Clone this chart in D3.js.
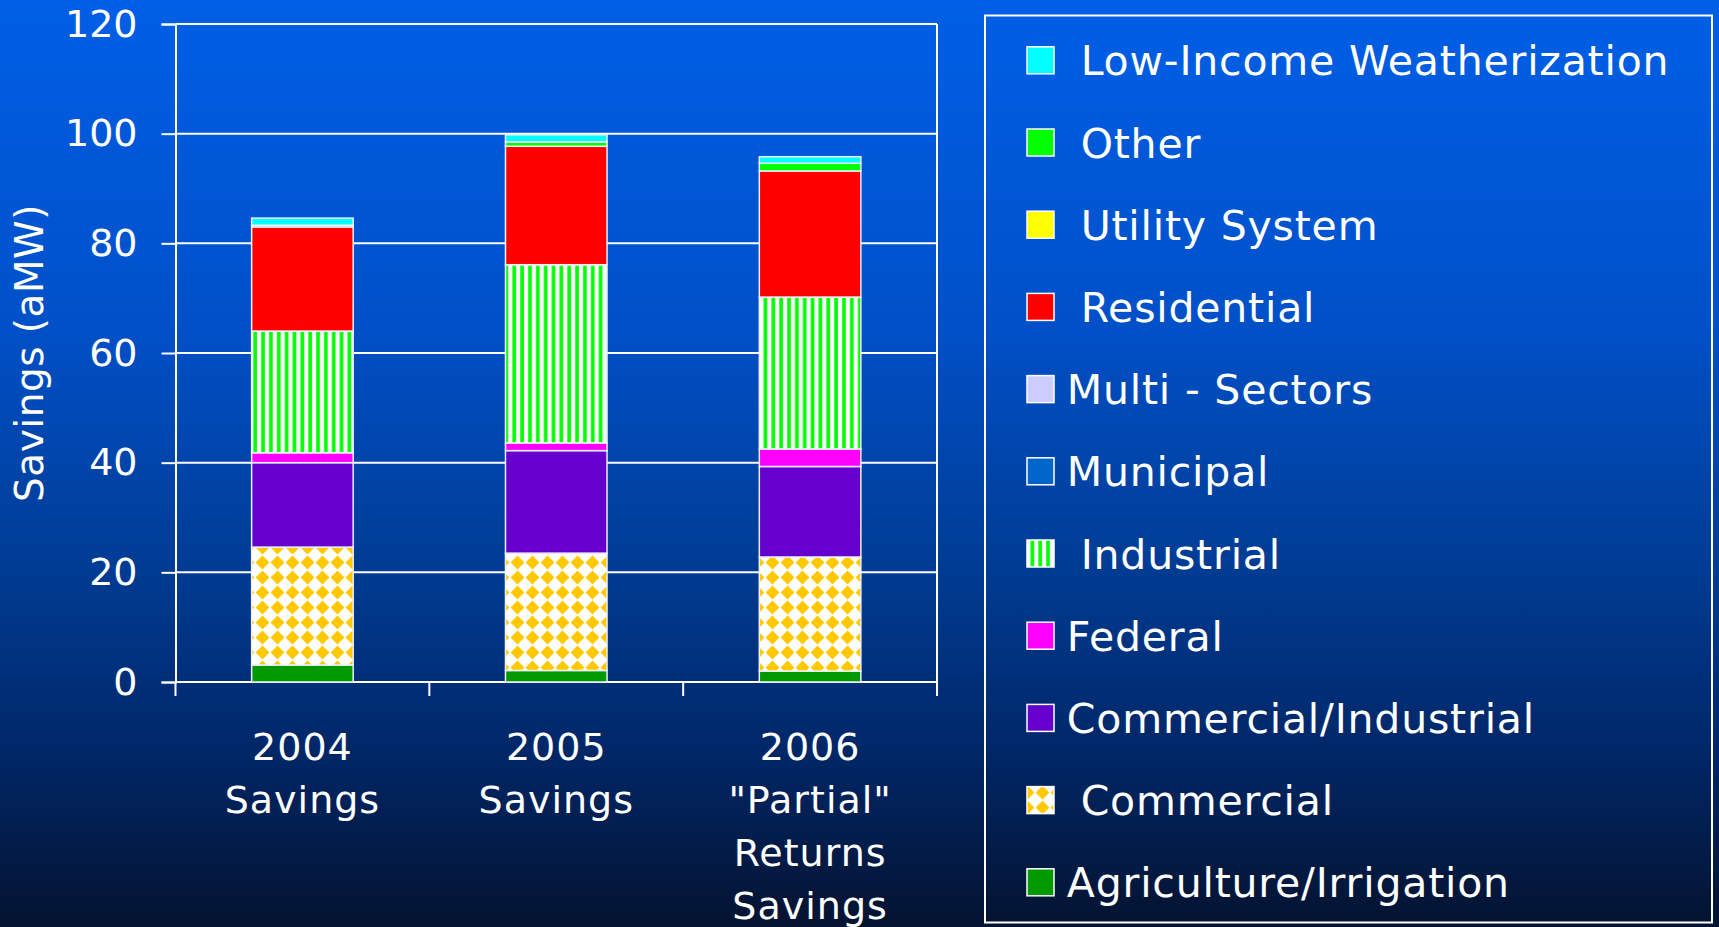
<!DOCTYPE html>
<html>
<head>
<meta charset="utf-8">
<script src="https://cdnjs.cloudflare.com/ajax/libs/d3/7.8.5/d3.min.js"></script>
<style>
  html, body { margin: 0; padding: 0; background: #02122e; }
  svg text { fill: #fff; font-family: "DejaVu Sans", Verdana, sans-serif; white-space: pre; }
</style>
</head>
<body>
<svg id="chart" width="1719" height="927"></svg>
<script>
// categories on the x axis, one array of lines per bar
const categories = ["2004", "2005", "2006"];
const categoryLines = [
  ["2004", "Savings"],
  ["2005", "Savings"],
  ["2006", "\"Partial\"", "Returns", "Savings"]
];

// series, bottom of the stack first (aMW)
const agriculture = [3.1, 2.1, 2.0];
const commercial = [21.5, 21.4, 20.8];
const commercialIndustrial = [15.4, 18.7, 16.5];
const federal = [1.8, 1.4, 3.2];
const industrial = [22.2, 32.5, 27.7];
const municipal = [0, 0, 0];
const multiSectors = [0, 0, 0];
const residential = [19.0, 21.6, 23.0];
const utilitySystem = [0, 0, 0];
const other = [0.3, 0.8, 1.4];
const lowIncome = [1.3, 1.3, 1.2];

const seriesKeys = ["ag", "com", "ci", "fed", "ind", "mun", "multi", "res", "util", "oth", "li"];
const seriesNames = [" Agriculture/Irrigation", "  Commercial", " Commercial/Industrial", " Federal",
  "  Industrial", " Municipal", " Multi - Sectors", "  Residential", "  Utility System", "  Other",
  "  Low-Income Weatherization"];
const seriesValues = [agriculture, commercial, commercialIndustrial, federal, industrial, municipal,
  multiSectors, residential, utilitySystem, other, lowIncome];
const seriesFills = ["#009900", "url(#diamonds)", "#6600cc", "#ff00ff", "url(#stripes)", "#0066cc",
  "#ccccff", "#ff0000", "#ffff00", "#00ff00", "#00ffff"];

const yTicks = [0, 20, 40, 60, 80, 100, 120];

const svg = d3.select("#chart");
const W = 1719, H = 927;
const plot = { left: 175.5, right: 937, top: 24, bottom: 682 };

// background gradient + patterns
const defs = svg.append("defs");
const grad = defs.append("linearGradient").attr("id", "bg").attr("x1", 0).attr("y1", 0).attr("x2", 0).attr("y2", 1);
[["0", "#005fe6"], ["0.35", "#0050c8"], ["0.6", "#003d96"], ["0.8", "#00286a"], ["1", "#041330"]]
  .forEach(s => grad.append("stop").attr("offset", s[0]).attr("stop-color", s[1]));

const stripes = defs.append("pattern").attr("id", "stripes").attr("patternUnits", "userSpaceOnUse")
  .attr("width", 7.85).attr("height", 10);
stripes.append("rect").attr("width", 7.85).attr("height", 10).attr("fill", "#fff");
stripes.append("rect").attr("x", 2.2).attr("width", 3.6).attr("height", 10).attr("fill", "#00ff00");

const diamonds = defs.append("pattern").attr("id", "diamonds").attr("patternUnits", "userSpaceOnUse")
  .attr("width", 15).attr("height", 15);
diamonds.append("rect").attr("width", 15).attr("height", 15).attr("fill", "#fff");
diamonds.append("path").attr("d", "M7.5,0.6 L14.4,7.5 L7.5,14.4 L0.6,7.5 Z").attr("fill", "#ffc800");

svg.append("rect").attr("width", W).attr("height", H).attr("fill", "url(#bg)");

// scales
const x = d3.scaleBand().domain(categories).range([plot.left, plot.right]).paddingInner(0.6).paddingOuter(0.3);
const y = d3.scaleLinear().domain([0, 120]).range([plot.bottom, plot.top]);

// gridlines
svg.append("g").selectAll("line").data(yTicks).join("line")
  .attr("x1", plot.left).attr("x2", plot.right)
  .attr("y1", d => y(d)).attr("y2", d => y(d))
  .attr("stroke", "#fff").attr("stroke-width", 2);

// right border of plot
svg.append("line").attr("x1", plot.right).attr("x2", plot.right).attr("y1", plot.top).attr("y2", plot.bottom)
  .attr("stroke", "#fff").attr("stroke-width", 2);

// y axis
const yAxis = svg.append("g").attr("transform", `translate(${plot.left},0)`)
  .call(d3.axisLeft(y).tickValues(yTicks).tickSize(14).tickPadding(24));
yAxis.select(".domain").attr("stroke", "#fff").attr("stroke-width", 2);
yAxis.selectAll(".tick line").attr("stroke", "#fff").attr("stroke-width", 2);
yAxis.selectAll(".tick text").attr("font-size", 38).attr("font-family", "DejaVu Sans").attr("fill", "#fff");

svg.append("text")
  .attr("transform", `translate(43,${(plot.top + plot.bottom) / 2}) rotate(-90)`)
  .attr("text-anchor", "middle").attr("font-size", 39).attr("letter-spacing", 0.5)
  .text("Savings (aMW)");

// x axis ticks at the band boundaries
const step = x.step();
const xBounds = d3.range(categories.length + 1).map(i => plot.left + i * step);
svg.append("g").selectAll("line").data(xBounds).join("line")
  .attr("x1", d => d).attr("x2", d => d).attr("y1", plot.bottom).attr("y2", plot.bottom + 14)
  .attr("stroke", "#fff").attr("stroke-width", 2);

svg.append("g").selectAll("text").data(categories).join("text")
  .attr("text-anchor", "middle").attr("font-size", 38).attr("letter-spacing", 1)
  .attr("x", d => x(d) + x.bandwidth() / 2)
  .selectAll("tspan").data((d, i) => categoryLines[i]).join("tspan")
  .attr("x", function() { return this.parentNode.getAttribute("x"); })
  .attr("y", (d, i) => 760 + i * 53)
  .text(d => d);

// stacked bars
const table = categories.map((c, i) => {
  const row = { cat: c };
  seriesKeys.forEach((k, j) => { row[k] = seriesValues[j][i]; });
  return row;
});
const stacked = d3.stack().keys(seriesKeys)(table);

svg.append("g").selectAll("g").data(stacked).join("g")
  .attr("fill", (d, i) => seriesFills[i])
  .selectAll("rect").data(d => d.filter(p => p[1] - p[0] > 0)).join("rect")
  .attr("x", d => x(d.data.cat))
  .attr("width", x.bandwidth())
  .attr("y", d => y(d[1]))
  .attr("height", d => y(d[0]) - y(d[1]))
  .attr("stroke", "#eef0ff").attr("stroke-width", 1.5);

// legend
const legend = { x: 985, y: 15.5, w: 727, h: 907, first: 60.3, gap: 82.2 };
svg.append("rect").attr("x", legend.x).attr("y", legend.y).attr("width", legend.w).attr("height", legend.h)
  .attr("fill", "none").attr("stroke", "#fff").attr("stroke-width", 2);

const legendOrder = d3.range(seriesKeys.length).reverse();
const items = svg.append("g").selectAll("g").data(legendOrder).join("g")
  .attr("transform", (d, i) => `translate(0,${legend.first + i * legend.gap})`);
items.append("rect").attr("x", 1027).attr("y", -13.5).attr("width", 27).attr("height", 27)
  .attr("fill", d => seriesFills[d]).attr("stroke", "#fff").attr("stroke-width", 1.5);
items.append("text").attr("x", 1053).attr("y", 15).attr("font-size", 41).attr("letter-spacing", 0.8)
  .text(d => seriesNames[d]);
</script>
</body>
</html>
